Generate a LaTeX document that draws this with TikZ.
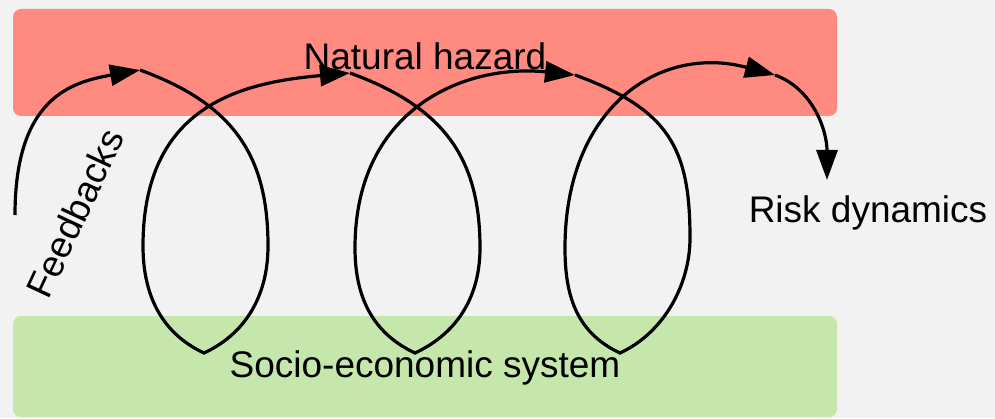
\documentclass[tikz,border=0pt]{standalone}
\usepackage{fontspec}
\setmainfont{Liberation Sans}
\usepackage{tikz}
\usetikzlibrary{arrows.meta}
\definecolor{hazardred}{RGB}{255,138,128}
\definecolor{socgreen}{RGB}{197,231,171}
\definecolor{bggray}{RGB}{242,242,242}

\begin{document}
\begin{tikzpicture}[x=1pt,y=1pt,
    band/.style={rounded corners=8pt},
    loopline/.style={line width=3.2pt},
    blk/.style={-{Triangle[length=30pt,width=21pt]}},
    lbl/.style={font=\fontsize{37}{44}\selectfont, inner sep=0pt}]
    \fill[bggray] (0,0) rectangle (995,418);
    \useasboundingbox (0,0) rectangle (995,418);
    % the two systems
    \fill[hazardred, band] (13,302) rectangle (837,409);
    \fill[socgreen, band] (13,1) rectangle (837,102);
    \node[lbl, anchor=base] (hazard) at (425,348) {Natural hazard};
    \node[lbl, anchor=base] (society) at (425,41) {Socio-economic system};
    \node[lbl, anchor=base] (risk) at (868,195) {Risk dynamics};
    \node[lbl, rotate=65] (feedbacks) at (75,205) {Feedbacks};
    % points of the spiral
    \coordinate (s) at (15,203);
    \coordinate (t1) at (140,348);
    \coordinate (r1) at (268,172);
    \coordinate (b1) at (204,65);
    \coordinate (l1) at (143,172);
    \coordinate (t2) at (350,345);
    \coordinate (r2) at (480,170);
    \coordinate (b2) at (415,65);
    \coordinate (l2) at (355,170);
    \coordinate (t3) at (575,343);
    \coordinate (r3) at (690,180);
    \coordinate (b3) at (620,65);
    \coordinate (l3) at (565,170);
    \coordinate (t4) at (775,343);
    \coordinate (e) at (827,238);
    % spiral
    \draw[loopline, blk] (s) .. controls +(90:117) and +(190:70) .. (t1);
    \draw[loopline, blk] (t1) .. controls +(-20:100) and +(90:90) .. (r1)
        .. controls +(-90:45) and +(25:50) .. (b1)
        .. controls +(155:50) and +(-90:45) .. (l1)
        .. controls +(90:140) and +(185:110) .. (t2);
    \draw[loopline, blk] (t2) .. controls +(-20:100) and +(90:90) .. (r2)
        .. controls +(-90:45) and +(25:50) .. (b2)
        .. controls +(155:50) and +(-90:45) .. (l2)
        .. controls +(90:140) and +(174:110) .. (t3);
    \draw[loopline, blk] (t3) .. controls +(-20:100) and +(90:90) .. (r3)
        .. controls +(-90:45) and +(25:50) .. (b3)
        .. controls +(155:50) and +(-90:45) .. (l3)
        .. controls +(90:140) and +(165:120) .. (t4);
    \draw[loopline, blk] (t4) .. controls +(-20:40) and +(90:50) .. (e);
\end{tikzpicture}
\end{document}
